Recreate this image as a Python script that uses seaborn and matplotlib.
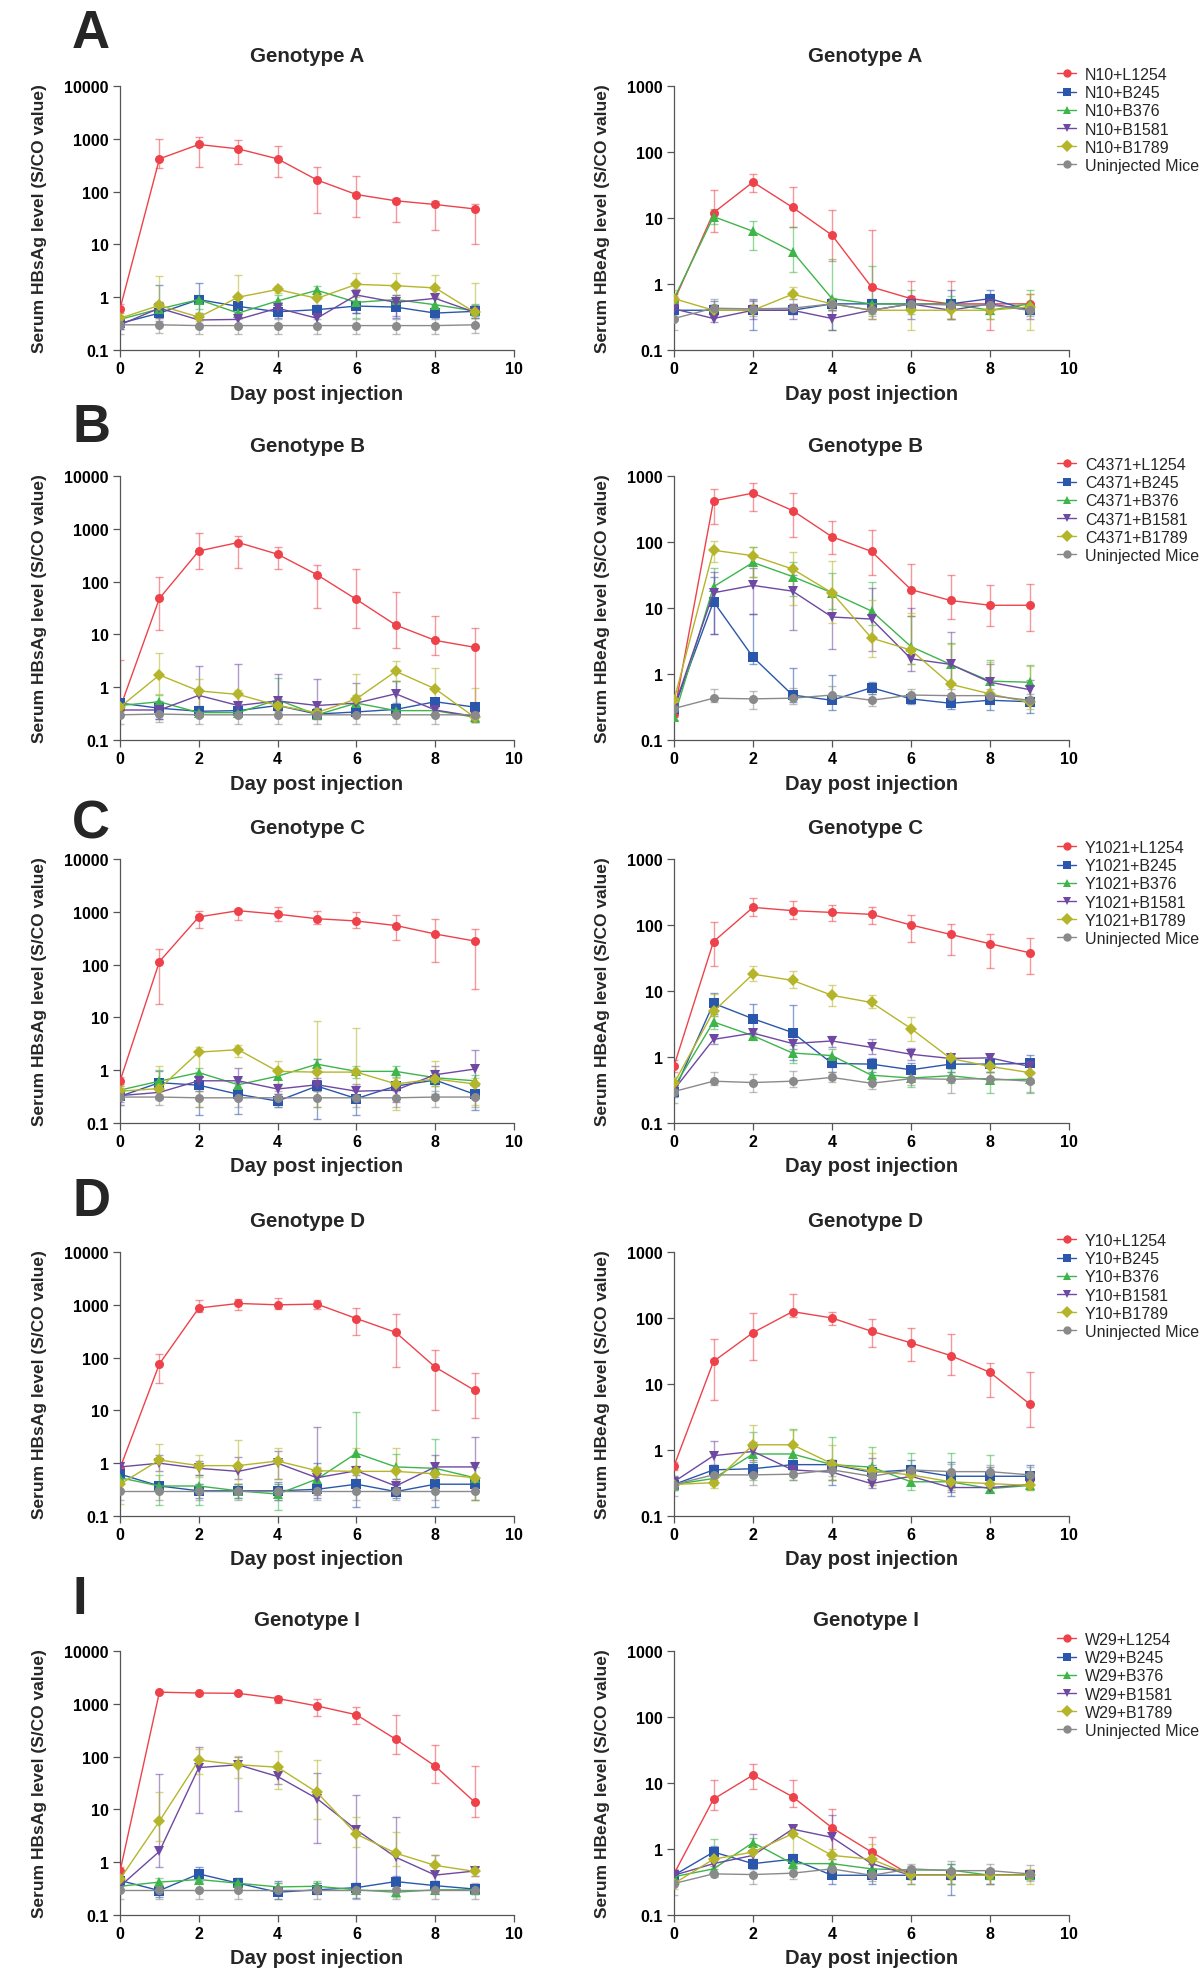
import numpy as np
import pandas as pd
import matplotlib
matplotlib.use("Agg")
import matplotlib.pyplot as plt
from matplotlib.ticker import FixedLocator, NullLocator
import seaborn as sns

# ---------------- data ----------------
DAYS = [0, 1, 2, 3, 4, 5, 6, 7, 8, 9]
SUFFIXES = ["L1254", "B245", "B376", "B1581", "B1789"]
PREFIXES = ["N10", "C4371", "Y1021", "Y10", "W29"]
GENOTYPES = ["A", "B", "C", "D", "I"]
PANEL_LETTERS = ["A", "B", "C", "D", "I"]
COLORS = ["#EE424B", "#2A57AC", "#3DB54A", "#6E48A2", "#B5B52A", "#8A8A8A"]
MARKERS = ["o", "s", "^", "v", "D", "o"]
Y_TICKS_S = [0.1, 1, 10, 100, 1000, 10000]
Y_TICKS_E = [0.1, 1, 10, 100, 1000]

# order of series: L1254, B245, B376, B1581, B1789, Uninjected
A_S_MEAN = [[0.6, 417, 780, 645, 417, 166, 88, 67, 57, 47],
            [0.32, 0.50, 0.90, 0.67, 0.53, 0.58, 0.68, 0.65, 0.50, 0.54],
            [0.38, 0.60, 0.90, 0.50, 0.85, 1.35, 0.80, 0.90, 0.72, 0.55],
            [0.30, 0.62, 0.37, 0.38, 0.62, 0.40, 1.10, 0.80, 0.95, 0.52],
            [0.40, 0.70, 0.42, 1.00, 1.40, 0.95, 1.75, 1.65, 1.50, 0.52],
            [0.30, 0.30, 0.29, 0.29, 0.29, 0.29, 0.29, 0.29, 0.29, 0.30]]
A_S_LO = [[0.5, 277, 290, 330, 185, 39, 33, 26, 19, 10.3],
          [0.25, 0.35, 0.5, 0.5, 0.4, 0.45, 0.5, 0.4, 0.4, 0.45],
          [0.3, 0.45, 0.6, 0.4, 0.6, 1.1, 0.4, 0.6, 0.5, 0.4],
          [0.25, 0.4, 0.28, 0.3, 0.45, 0.3, 0.5, 0.45, 0.7, 0.4],
          [0.35, 0.3, 0.35, 0.5, 1.2, 0.7, 1.0, 1.0, 1.0, 0.3],
          [0.2, 0.21, 0.2, 0.2, 0.2, 0.2, 0.2, 0.2, 0.2, 0.21]]
A_S_HI = [[0.75, 980, 1070, 960, 725, 298, 201, 75, 65, 59],
          [0.4, 1.7, 1.85, 0.8, 0.65, 0.7, 0.85, 0.85, 0.6, 0.7],
          [0.45, 0.8, 1.1, 0.65, 1.1, 1.6, 1.1, 1.1, 0.95, 0.75],
          [0.35, 0.8, 0.45, 0.5, 0.8, 0.5, 1.4, 1.1, 1.2, 0.65],
          [0.45, 2.5, 0.5, 2.6, 1.6, 1.2, 2.9, 2.9, 2.6, 1.85],
          [0.4, 0.4, 0.38, 0.38, 0.38, 0.38, 0.38, 0.38, 0.38, 0.4]]

A_E_MEAN = [[0.55, 12, 35, 14.5, 5.5, 0.9, 0.6, 0.5, 0.5, 0.5],
            [0.40, 0.40, 0.40, 0.40, 0.50, 0.50, 0.50, 0.50, 0.60, 0.40],
            [0.60, 10.5, 6.3, 3.1, 0.60, 0.50, 0.50, 0.50, 0.40, 0.50],
            [0.42, 0.30, 0.40, 0.40, 0.30, 0.40, 0.50, 0.40, 0.50, 0.40],
            [0.60, 0.40, 0.40, 0.70, 0.50, 0.40, 0.40, 0.40, 0.40, 0.45],
            [0.30, 0.43, 0.42, 0.43, 0.50, 0.40, 0.50, 0.48, 0.48, 0.40]]
A_E_LO = [[0.45, 6.2, 25, 7.3, 2.2, 0.45, 0.4, 0.3, 0.2, 0.4],
          [0.35, 0.35, 0.2, 0.35, 0.4, 0.4, 0.4, 0.4, 0.45, 0.35],
          [0.5, 8, 3.3, 1.5, 0.2, 0.35, 0.35, 0.3, 0.3, 0.35],
          [0.35, 0.27, 0.3, 0.3, 0.2, 0.3, 0.3, 0.3, 0.35, 0.3],
          [0.5, 0.35, 0.35, 0.6, 0.4, 0.3, 0.2, 0.3, 0.3, 0.2],
          [0.2, 0.35, 0.33, 0.35, 0.4, 0.33, 0.4, 0.4, 0.4, 0.33]]
A_E_HI = [[0.65, 27, 47, 30, 13, 6.5, 1.1, 1.1, 0.7, 0.7],
          [0.45, 0.55, 0.6, 0.5, 0.6, 0.6, 0.65, 0.8, 0.8, 0.5],
          [0.7, 13.5, 9, 7.3, 2.4, 1.9, 0.8, 0.65, 0.5, 0.8],
          [0.5, 0.35, 0.55, 0.5, 0.4, 0.5, 0.6, 0.5, 0.6, 0.5],
          [0.8, 0.5, 0.5, 0.9, 0.6, 0.5, 0.5, 0.5, 0.5, 0.7],
          [0.4, 0.6, 0.58, 0.6, 0.62, 0.5, 0.62, 0.6, 0.6, 0.5]]

B_S_MEAN = [[0.40, 48, 380, 550, 330, 135, 46, 15, 7.7, 5.7],
            [0.50, 0.40, 0.35, 0.36, 0.45, 0.31, 0.34, 0.38, 0.53, 0.42],
            [0.45, 0.53, 0.33, 0.33, 0.58, 0.30, 0.50, 0.36, 0.36, 0.27],
            [0.37, 0.37, 0.70, 0.45, 0.55, 0.45, 0.50, 0.75, 0.37, 0.28],
            [0.42, 1.70, 0.85, 0.73, 0.45, 0.33, 0.60, 2.00, 0.93, 0.27],
            [0.30, 0.31, 0.30, 0.30, 0.30, 0.30, 0.30, 0.30, 0.30, 0.30]]
B_S_LO = [[0.3, 12, 175, 180, 175, 31, 13, 5.5, 4, 0.5],
          [0.4, 0.25, 0.28, 0.28, 0.35, 0.25, 0.28, 0.3, 0.45, 0.35],
          [0.35, 0.4, 0.28, 0.28, 0.4, 0.25, 0.35, 0.28, 0.28, 0.22],
          [0.3, 0.25, 0.3, 0.3, 0.3, 0.3, 0.3, 0.4, 0.3, 0.22],
          [0.35, 0.75, 0.4, 0.55, 0.35, 0.28, 0.4, 1.3, 0.5, 0.22],
          [0.2, 0.22, 0.2, 0.2, 0.2, 0.2, 0.2, 0.2, 0.2, 0.22]]
B_S_HI = [[3.3, 120, 820, 720, 460, 210, 175, 63, 22, 13.5],
          [0.6, 0.55, 0.45, 0.45, 0.6, 0.4, 0.45, 0.5, 0.62, 0.5],
          [0.6, 0.7, 0.4, 0.4, 1.5, 0.38, 0.7, 1.3, 0.45, 0.35],
          [0.45, 0.5, 2.5, 2.7, 1.8, 1.4, 1.2, 1.3, 0.45, 0.35],
          [0.5, 4.5, 1.4, 0.9, 0.6, 0.4, 1.75, 3.2, 2.3, 0.95],
          [0.4, 0.4, 0.4, 0.4, 0.4, 0.4, 0.4, 0.4, 0.4, 0.4]]

B_E_MEAN = [[0.25, 420, 550, 300, 120, 72, 19, 13, 11, 11],
            [0.30, 12.5, 1.80, 0.48, 0.40, 0.62, 0.42, 0.36, 0.40, 0.38],
            [0.22, 21, 49, 30, 17, 9.0, 2.6, 1.4, 0.78, 0.75],
            [0.31, 17, 22, 18, 7.3, 6.8, 1.7, 1.4, 0.75, 0.58],
            [0.40, 75, 62, 39, 17, 3.5, 2.3, 0.70, 0.50, 0.37],
            [0.30, 0.43, 0.42, 0.43, 0.48, 0.40, 0.48, 0.47, 0.47, 0.40]]
B_E_LO = [[0.22, 190, 290, 120, 65, 32, 7.5, 6.8, 5.3, 4.5],
          [0.25, 4, 1.4, 0.38, 0.28, 0.5, 0.35, 0.3, 0.28, 0.26],
          [0.2, 12, 30, 15, 9.5, 5.5, 1.4, 0.7, 0.5, 0.45],
          [0.27, 4, 8, 4.6, 2.4, 2.2, 1.1, 0.7, 0.45, 0.4],
          [0.32, 50, 30, 11, 6, 1.8, 1.4, 0.4, 0.35, 0.3],
          [0.2, 0.38, 0.3, 0.35, 0.4, 0.33, 0.4, 0.4, 0.4, 0.33]]
B_E_HI = [[0.3, 640, 780, 550, 210, 150, 46, 32, 22, 23],
          [0.35, 30, 8, 1.25, 0.98, 0.75, 0.5, 0.45, 0.5, 0.45],
          [0.25, 40, 83, 50, 34, 25, 7.5, 3.0, 1.65, 1.35],
          [0.35, 35, 40, 32, 15, 20, 10, 4.4, 1.4, 0.8],
          [0.55, 105, 85, 70, 52, 13, 8.3, 2.8, 1.5, 1.3],
          [0.4, 0.6, 0.56, 0.62, 0.65, 0.5, 0.6, 0.6, 0.6, 0.5]]

C_S_MEAN = [[0.62, 114, 800, 1050, 900, 740, 670, 550, 380, 280],
            [0.32, 0.58, 0.52, 0.35, 0.26, 0.50, 0.29, 0.50, 0.65, 0.35],
            [0.42, 0.62, 0.90, 0.53, 0.77, 1.30, 0.95, 0.95, 0.72, 0.63],
            [0.33, 0.38, 0.63, 0.63, 0.44, 0.53, 0.40, 0.42, 0.82, 1.05],
            [0.40, 0.45, 2.20, 2.45, 0.95, 0.92, 0.92, 0.55, 0.68, 0.55],
            [0.31, 0.31, 0.30, 0.30, 0.30, 0.30, 0.30, 0.30, 0.31, 0.31]]
C_S_LO = [[0.5, 18, 500, 700, 680, 600, 500, 290, 110, 35],
          [0.22, 0.3, 0.14, 0.15, 0.2, 0.12, 0.14, 0.3, 0.35, 0.18],
          [0.32, 0.4, 0.6, 0.4, 0.55, 0.9, 0.7, 0.75, 0.5, 0.45],
          [0.25, 0.28, 0.4, 0.4, 0.35, 0.4, 0.3, 0.25, 0.55, 0.3],
          [0.3, 0.3, 0.2, 1.8, 0.5, 0.2, 0.3, 0.18, 0.5, 0.22],
          [0.22, 0.22, 0.2, 0.2, 0.2, 0.2, 0.2, 0.2, 0.2, 0.2]]
C_S_HI = [[0.75, 200, 1030, 1150, 1250, 1050, 1000, 880, 720, 470],
          [0.4, 0.95, 0.75, 0.6, 0.35, 1.6, 0.5, 0.8, 0.9, 0.5],
          [0.55, 1.0, 1.1, 0.7, 1.0, 1.6, 1.2, 1.2, 1.0, 0.8],
          [0.42, 0.5, 0.9, 1.1, 0.55, 0.7, 0.55, 0.6, 1.2, 2.4],
          [0.5, 1.2, 2.7, 3.0, 1.5, 8.7, 6.2, 0.7, 1.5, 0.7],
          [0.4, 0.4, 0.4, 0.4, 0.4, 0.4, 0.4, 0.4, 0.4, 0.4]]

C_E_MEAN = [[0.73, 56, 185, 165, 155, 145, 100, 72, 52, 38],
            [0.30, 6.5, 3.8, 2.35, 0.80, 0.78, 0.64, 0.78, 0.78, 0.80],
            [0.35, 3.4, 2.1, 1.15, 1.05, 0.53, 0.48, 0.52, 0.45, 0.46],
            [0.32, 1.85, 2.3, 1.6, 1.75, 1.4, 1.1, 0.95, 0.97, 0.72],
            [0.40, 4.9, 18, 14.5, 8.6, 6.7, 2.7, 0.95, 0.72, 0.58],
            [0.30, 0.43, 0.41, 0.43, 0.49, 0.40, 0.47, 0.46, 0.47, 0.43]]
C_E_LO = [[0.6, 24, 135, 125, 115, 105, 55, 35, 22, 18],
          [0.25, 4.5, 2.2, 0.9, 0.6, 0.6, 0.5, 0.6, 0.6, 0.6],
          [0.3, 2.7, 1.8, 0.8, 0.7, 0.45, 0.35, 0.4, 0.28, 0.28],
          [0.27, 1.6, 1.9, 1.3, 1.4, 1.1, 0.9, 0.8, 0.85, 0.6],
          [0.33, 4.2, 14, 11, 6, 5.5, 1.75, 0.8, 0.6, 0.45],
          [0.2, 0.38, 0.3, 0.35, 0.42, 0.33, 0.38, 0.28, 0.4, 0.3]]
C_E_HI = [[0.9, 110, 260, 235, 200, 190, 140, 105, 73, 63],
          [0.35, 9.3, 6.3, 6.1, 1.0, 0.95, 0.8, 0.95, 0.95, 1.07],
          [0.4, 4.2, 2.4, 1.5, 1.3, 0.65, 0.6, 0.65, 0.6, 0.6],
          [0.38, 2.1, 2.7, 1.9, 2.1, 1.9, 1.35, 1.1, 1.1, 0.85],
          [0.5, 9, 24, 20, 12.5, 8.6, 4.1, 1.1, 0.85, 0.7],
          [0.4, 0.6, 0.56, 0.62, 0.6, 0.5, 0.6, 0.6, 0.6, 0.55]]

D_S_MEAN = [[0.80, 76, 870, 1060, 1000, 1030, 550, 300, 66, 24],
            [0.62, 0.37, 0.30, 0.30, 0.30, 0.32, 0.40, 0.29, 0.40, 0.40],
            [0.53, 0.37, 0.37, 0.30, 0.26, 0.50, 1.55, 0.85, 0.80, 0.53],
            [0.85, 1.00, 0.80, 0.70, 1.00, 0.53, 0.72, 0.37, 0.85, 0.85],
            [0.40, 1.15, 0.90, 0.90, 1.10, 0.72, 0.70, 0.70, 0.63, 0.53],
            [0.30, 0.30, 0.30, 0.30, 0.30, 0.30, 0.30, 0.30, 0.30, 0.30]]
D_S_LO = [[0.65, 33, 720, 800, 850, 820, 270, 65, 10, 7.3],
          [0.5, 0.3, 0.22, 0.22, 0.2, 0.22, 0.15, 0.22, 0.15, 0.3],
          [0.4, 0.16, 0.16, 0.22, 0.13, 0.3, 0.7, 0.5, 0.4, 0.2],
          [0.7, 0.7, 0.6, 0.5, 0.5, 0.25, 0.5, 0.25, 0.5, 0.3],
          [0.17, 0.4, 0.55, 0.4, 0.5, 0.6, 0.4, 0.4, 0.4, 0.2],
          [0.2, 0.2, 0.2, 0.2, 0.2, 0.2, 0.2, 0.2, 0.2, 0.2]]
D_S_HI = [[1.0, 118, 1250, 1300, 1350, 1250, 880, 660, 140, 51],
          [0.75, 0.45, 0.4, 0.4, 0.45, 1.0, 0.6, 0.38, 0.55, 0.5],
          [0.65, 0.6, 0.6, 0.4, 0.4, 0.8, 9.3, 1.5, 2.9, 0.85],
          [1.05, 1.4, 1.1, 1.3, 1.7, 4.8, 0.9, 0.5, 1.45, 3.2],
          [0.6, 2.35, 1.4, 2.8, 1.9, 0.85, 1.9, 1.9, 0.8, 1.05],
          [0.4, 0.4, 0.4, 0.4, 0.4, 0.4, 0.4, 0.4, 0.4, 0.4]]

D_E_MEAN = [[0.57, 22, 60, 125, 100, 63, 42, 27, 15, 5.0],
            [0.30, 0.50, 0.52, 0.60, 0.60, 0.46, 0.50, 0.40, 0.40, 0.40],
            [0.30, 0.37, 0.87, 0.87, 0.60, 0.55, 0.33, 0.33, 0.26, 0.29],
            [0.33, 0.82, 0.95, 0.50, 0.46, 0.31, 0.40, 0.27, 0.27, 0.30],
            [0.30, 0.32, 1.20, 1.20, 0.62, 0.48, 0.42, 0.33, 0.31, 0.29],
            [0.30, 0.42, 0.42, 0.43, 0.50, 0.40, 0.50, 0.47, 0.47, 0.42]]
D_E_LO = [[0.5, 5.8, 23, 103, 77, 36, 22, 13.5, 6.3, 2.2],
          [0.25, 0.4, 0.4, 0.5, 0.3, 0.38, 0.4, 0.2, 0.3, 0.3],
          [0.25, 0.3, 0.35, 0.35, 0.35, 0.3, 0.25, 0.25, 0.22, 0.25],
          [0.28, 0.6, 0.7, 0.4, 0.35, 0.27, 0.3, 0.23, 0.23, 0.26],
          [0.25, 0.27, 0.6, 0.5, 0.35, 0.3, 0.3, 0.27, 0.27, 0.25],
          [0.2, 0.35, 0.3, 0.35, 0.4, 0.33, 0.4, 0.3, 0.4, 0.3]]
D_E_HI = [[0.65, 48, 118, 235, 125, 97, 70, 58, 21, 15],
          [0.35, 0.6, 0.65, 0.7, 0.7, 0.6, 0.7, 0.65, 0.55, 0.6],
          [0.35, 0.45, 1.9, 2.1, 1.6, 1.1, 0.9, 0.9, 0.83, 0.35],
          [0.4, 1.35, 1.3, 0.6, 0.7, 0.75, 0.5, 0.35, 0.35, 0.35],
          [0.35, 0.4, 2.4, 2.0, 1.2, 0.9, 0.55, 0.4, 0.35, 0.33],
          [0.4, 0.6, 0.55, 0.55, 0.6, 0.5, 0.6, 0.62, 0.6, 0.55]]

I_S_MEAN = [[0.67, 1660, 1600, 1580, 1260, 910, 620, 213, 66, 13.8],
            [0.45, 0.29, 0.60, 0.40, 0.27, 0.30, 0.33, 0.43, 0.36, 0.31],
            [0.35, 0.42, 0.47, 0.40, 0.34, 0.35, 0.30, 0.27, 0.30, 0.30],
            [0.35, 1.60, 62, 70, 42, 16, 4.1, 1.24, 0.57, 0.68],
            [0.48, 6.0, 86, 70, 63, 21, 3.4, 1.48, 0.87, 0.67],
            [0.30, 0.30, 0.30, 0.30, 0.30, 0.30, 0.30, 0.30, 0.30, 0.30]]
I_S_LO = [[0.55, 1600, 1550, 1530, 1050, 580, 420, 110, 32, 7.2],
          [0.35, 0.22, 0.45, 0.3, 0.2, 0.25, 0.21, 0.3, 0.3, 0.25],
          [0.3, 0.35, 0.4, 0.33, 0.28, 0.3, 0.25, 0.22, 0.25, 0.25],
          [0.3, 0.8, 8.5, 9.2, 30, 2.3, 0.3, 0.3, 0.45, 0.55],
          [0.4, 2.5, 47, 40, 24, 6.7, 1.9, 0.85, 0.6, 0.55],
          [0.2, 0.2, 0.2, 0.2, 0.2, 0.2, 0.2, 0.2, 0.2, 0.2]]
I_S_HI = [[0.8, 1700, 1650, 1620, 1400, 1250, 870, 620, 165, 65],
          [0.55, 0.37, 0.8, 0.5, 0.45, 0.4, 0.4, 0.55, 0.45, 0.38],
          [0.42, 0.5, 0.55, 0.5, 0.4, 0.45, 0.37, 0.33, 0.36, 0.36],
          [0.4, 46, 155, 100, 50, 48, 19, 7.3, 1.35, 0.8],
          [0.55, 21, 140, 103, 125, 88, 7.1, 3.8, 1.35, 0.8],
          [0.4, 0.4, 0.4, 0.4, 0.4, 0.4, 0.4, 0.4, 0.4, 0.4]]

I_E_MEAN = [[0.42, 5.7, 13.2, 6.2, 2.1, 0.90, 0.40, 0.40, 0.40, 0.40],
            [0.40, 0.90, 0.60, 0.70, 0.40, 0.40, 0.40, 0.40, 0.40, 0.40],
            [0.38, 0.50, 1.25, 0.60, 0.60, 0.50, 0.48, 0.48, 0.40, 0.40],
            [0.40, 0.60, 0.80, 2.00, 1.50, 0.60, 0.40, 0.40, 0.40, 0.40],
            [0.30, 0.70, 0.90, 1.70, 0.80, 0.70, 0.40, 0.40, 0.40, 0.40],
            [0.30, 0.42, 0.41, 0.43, 0.50, 0.40, 0.50, 0.47, 0.47, 0.42]]
I_E_LO = [[0.35, 3.9, 8, 4.4, 0.7, 0.6, 0.35, 0.35, 0.35, 0.35],
          [0.35, 0.7, 0.5, 0.55, 0.3, 0.3, 0.3, 0.2, 0.3, 0.35],
          [0.33, 0.4, 1.0, 0.5, 0.5, 0.4, 0.4, 0.3, 0.35, 0.35],
          [0.35, 0.5, 0.6, 1.7, 0.6, 0.5, 0.35, 0.35, 0.3, 0.35],
          [0.25, 0.55, 0.7, 0.6, 0.6, 0.5, 0.3, 0.3, 0.3, 0.3],
          [0.2, 0.37, 0.3, 0.35, 0.42, 0.33, 0.4, 0.3, 0.4, 0.33]]
I_E_HI = [[0.5, 11, 19.5, 11.2, 4.1, 1.5, 0.45, 0.45, 0.45, 0.45],
          [0.45, 1.1, 0.7, 0.85, 0.5, 0.5, 0.5, 0.6, 0.5, 0.45],
          [0.45, 1.4, 1.45, 0.7, 0.7, 0.6, 0.55, 0.6, 0.45, 0.45],
          [0.45, 0.75, 1.7, 2.3, 3.3, 0.7, 0.45, 0.45, 0.45, 0.45],
          [0.35, 0.85, 1.1, 2.2, 1.0, 1.2, 0.5, 0.5, 0.5, 0.5],
          [0.4, 0.55, 0.55, 0.55, 0.62, 0.5, 0.6, 0.65, 0.6, 0.58]]

# ---------------- style ----------------
sns.set_theme(style="ticks")
plt.rcParams["font.family"] = ["Liberation Sans", "DejaVu Sans"]
plt.rcParams["axes.edgecolor"] = "#555555"
plt.rcParams["axes.linewidth"] = 0.9
plt.rcParams["xtick.color"] = "#555555"
plt.rcParams["ytick.color"] = "#555555"
plt.rcParams["xtick.labelcolor"] = "black"
plt.rcParams["ytick.labelcolor"] = "black"

W, H = 1200, 1974
fig = plt.figure(figsize=(W / 100, H / 100), dpi=100)

ROW_TOPS = [87, 477, 860, 1253, 1652]
LETTER_Y = [34, 428, 825, 1202, 1600]
AX_H = 264
LEFT_X, LEFT_W = 120, 394
RIGHT_X, RIGHT_W = 674, 395


def fig_rect(x, top, w, h):
    return [x / W, 1 - (top + h) / H, w / W, h / H]


def draw_panel(ax, mean, lo, hi, labels, ticks, ylabel, title, legend_top,
               ylab_x, title_x):
    rows = []
    for name, vals in zip(labels, mean):
        for d, v in zip(DAYS, vals):
            rows.append({"group": name, "day": d, "value": v})
    df = pd.DataFrame(rows)
    ax.set_yscale("log")
    for i in range(len(labels)):
        m = np.array(mean[i], dtype=float)
        l = np.array(lo[i], dtype=float)
        h = np.array(hi[i], dtype=float)
        ax.errorbar(DAYS, m, yerr=[m - l, h - m], fmt="none",
                    ecolor=COLORS[i], alpha=0.55, elinewidth=1.0,
                    capsize=3, capthick=1.0, zorder=1)
    sns.lineplot(data=df, x="day", y="value", hue="group", style="group",
                 hue_order=labels, style_order=labels,
                 palette=COLORS, markers=MARKERS, dashes=False,
                 markersize=6.5, markeredgewidth=0, linewidth=1.0,
                 errorbar=None, ax=ax, legend=legend_top is not None,
                 zorder=3)
    ax.set_xlim(0, 10)
    ax.set_ylim(ticks[0], ticks[-1])
    ax.set_xticks([0, 2, 4, 6, 8, 10])
    ax.yaxis.set_major_locator(FixedLocator(ticks))
    ax.yaxis.set_minor_locator(NullLocator())
    ax.set_yticklabels([f"{t:g}" for t in ticks])
    ax.tick_params(axis="both", which="major", length=5, width=0.9,
                   direction="out", labelsize=11.5, pad=3)
    for lab in ax.get_xticklabels() + ax.get_yticklabels():
        lab.set_fontweight("bold")
    ax.set_xlabel("Day post injection", fontsize=14.5, fontweight="bold")
    ax.xaxis.label.set_verticalalignment("center")
    ax.xaxis.set_label_coords(0.5, -43 / AX_H)
    ax.set_ylabel(ylabel, fontsize=12.5, fontweight="bold")
    ax.yaxis.label.set_verticalalignment("center")
    ax.yaxis.set_label_coords(ylab_x, 0.5)
    ax.text(title_x, 1 + 31 / AX_H, title, transform=ax.transAxes,
            ha="center", va="center", fontsize=14.8, fontweight="bold")
    sns.despine(ax=ax)
    if legend_top is not None:
        old = ax.get_legend()
        handles = list(old.legend_handles)
        texts = [t.get_text() for t in old.get_texts()]
        old.remove()
        keep = [(h, t) for h, t in zip(handles, texts) if t in labels]
        for h, _ in keep:
            h.set_markersize(6)
            h.set_linewidth(1.0)
            h.set_markeredgewidth(0)
        ax.legend([k[0] for k in keep], [k[1] for k in keep],
                  loc="upper left",
                  bbox_to_anchor=(1057 / W, 1 - legend_top / H),
                  bbox_transform=fig.transFigure, frameon=False,
                  fontsize=11.5, handlelength=1.2, handletextpad=0.55,
                  labelspacing=0.2, borderpad=0, borderaxespad=0)


panels = [
    (A_S_MEAN, A_S_LO, A_S_HI, A_E_MEAN, A_E_LO, A_E_HI),
    (B_S_MEAN, B_S_LO, B_S_HI, B_E_MEAN, B_E_LO, B_E_HI),
    (C_S_MEAN, C_S_LO, C_S_HI, C_E_MEAN, C_E_LO, C_E_HI),
    (D_S_MEAN, D_S_LO, D_S_HI, D_E_MEAN, D_E_LO, D_E_HI),
    (I_S_MEAN, I_S_LO, I_S_HI, I_E_MEAN, I_E_LO, I_E_HI),
]

for r, (sm, sl, sh, em, el, eh) in enumerate(panels):
    labels = [f"{PREFIXES[r]}+{s}" for s in SUFFIXES] + ["Uninjected Mice"]
    top = ROW_TOPS[r]
    title = f"Genotype {GENOTYPES[r]}"
    axl = fig.add_axes(fig_rect(LEFT_X, top, LEFT_W, AX_H))
    draw_panel(axl, sm, sl, sh, labels, Y_TICKS_S,
               "Serum HBsAg level (S/CO value)", title, None,
               (40 - LEFT_X) / LEFT_W, 0.475)
    axr = fig.add_axes(fig_rect(RIGHT_X, top, RIGHT_W, AX_H))
    draw_panel(axr, em, el, eh, labels, Y_TICKS_E,
               "Serum HBeAg level (S/CO value)", title, top - 19,
               (603 - RIGHT_X) / RIGHT_W, 0.485)
    fig.text(72 / W, 1 - LETTER_Y[r] / H, PANEL_LETTERS[r], fontsize=38,
             fontweight="bold", ha="left", va="center")

fig.savefig("out.png", dpi=100)
